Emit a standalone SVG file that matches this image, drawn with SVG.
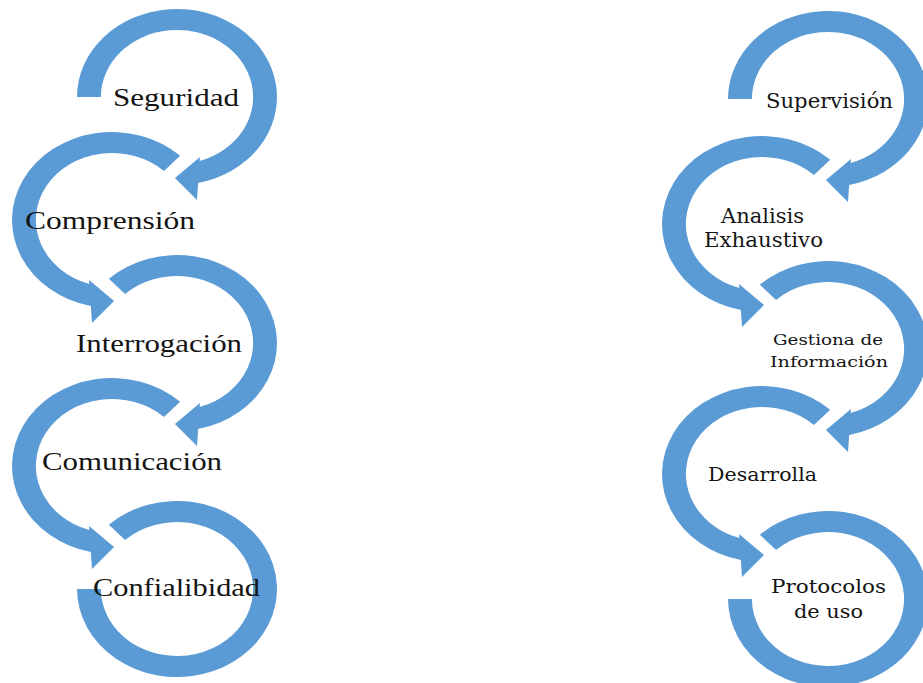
<svg xmlns="http://www.w3.org/2000/svg" width="923" height="683" viewBox="0 0 923 683">
<style>
.band{fill:#5B9BD5;}
.l{font-family:"Liberation Serif","Times New Roman",serif;font-size:26px;fill:#141414;}
.r{font-family:"DejaVu Serif","Liberation Serif",serif;fill:#141414;}
</style>
<defs>
<path id="first" class="band" d="M -88 0 A 88 88 0 1 1 18.63 86 L 17.6 103 L -1.8 81 L 20.2 60 L 19.96 63.96 A 67 67 0 1 0 -67 0 Z"/>
<path id="mid" class="band" d="M -60.02 -64.36 A 88 88 0 1 1 18.63 86 L 17.6 103 L -1.8 81 L 20.2 60 L 19.96 63.96 A 67 67 0 1 0 -45.69 -49 Z"/>
<path id="last" class="band" d="M -60.02 -64.36 A 88 88 0 1 1 -88 0 L -67 0 A 67 67 0 1 0 -45.69 -49 Z"/>
</defs>
<rect width="923" height="683" fill="#ffffff"/>
<g id="connectors"/>
<g id="seguridad">
<use href="#first" transform="translate(177,97) scale(1.136,1)"/>
<text class="l" x="113" y="106" textLength="126" lengthAdjust="spacingAndGlyphs">Seguridad</text>
</g>
<g id="comprension">
<use href="#mid" transform="translate(112,220) scale(-1.136,1)"/>
<text class="l" x="25" y="229" textLength="170" lengthAdjust="spacingAndGlyphs">Comprensión</text>
</g>
<g id="interrogacion">
<use href="#mid" transform="translate(177,343) scale(1.136,1)"/>
<text class="l" x="76" y="352" textLength="166" lengthAdjust="spacingAndGlyphs">Interrogación</text>
</g>
<g id="comunicacion">
<use href="#mid" transform="translate(112,466) scale(-1.136,1)"/>
<text class="l" x="42" y="470" textLength="180" lengthAdjust="spacingAndGlyphs">Comunicación</text>
</g>
<g id="confialibidad">
<use href="#last" transform="translate(177,589) scale(1.136,1)"/>
<text class="l" x="93" y="596" textLength="167" lengthAdjust="spacingAndGlyphs">Confialibidad</text>
</g>
<g id="supervision">
<use href="#first" transform="translate(828,99) scale(1.136,1)"/>
<text class="r" font-size="20" x="766" y="108" textLength="127" lengthAdjust="spacingAndGlyphs">Supervisión</text>
</g>
<g id="analisis">
<use href="#mid" transform="translate(762,224) scale(-1.136,1)"/>
<text class="r" font-size="20" x="721" y="223" textLength="83" lengthAdjust="spacingAndGlyphs">Analisis</text>
<text class="r" font-size="20" x="704" y="247" textLength="119" lengthAdjust="spacingAndGlyphs">Exhaustivo</text>
</g>
<g id="gestiona">
<use href="#mid" transform="translate(828,349) scale(1.136,1)"/>
<text class="r" font-size="15" x="773" y="345" textLength="110" lengthAdjust="spacingAndGlyphs">Gestiona de</text>
<text class="r" font-size="15" x="770" y="367" textLength="118" lengthAdjust="spacingAndGlyphs">Información</text>
</g>
<g id="desarrolla">
<use href="#mid" transform="translate(762,474) scale(-1.136,1)"/>
<text class="r" font-size="19" x="708" y="481" textLength="109" lengthAdjust="spacingAndGlyphs">Desarrolla</text>
</g>
<g id="protocolos">
<use href="#last" transform="translate(828,599) scale(1.136,1)"/>
<text class="r" font-size="19" x="771" y="593" textLength="115" lengthAdjust="spacingAndGlyphs">Protocolos</text>
<text class="r" font-size="19" x="794" y="618" textLength="69" lengthAdjust="spacingAndGlyphs">de uso</text>
</g>
</svg>
